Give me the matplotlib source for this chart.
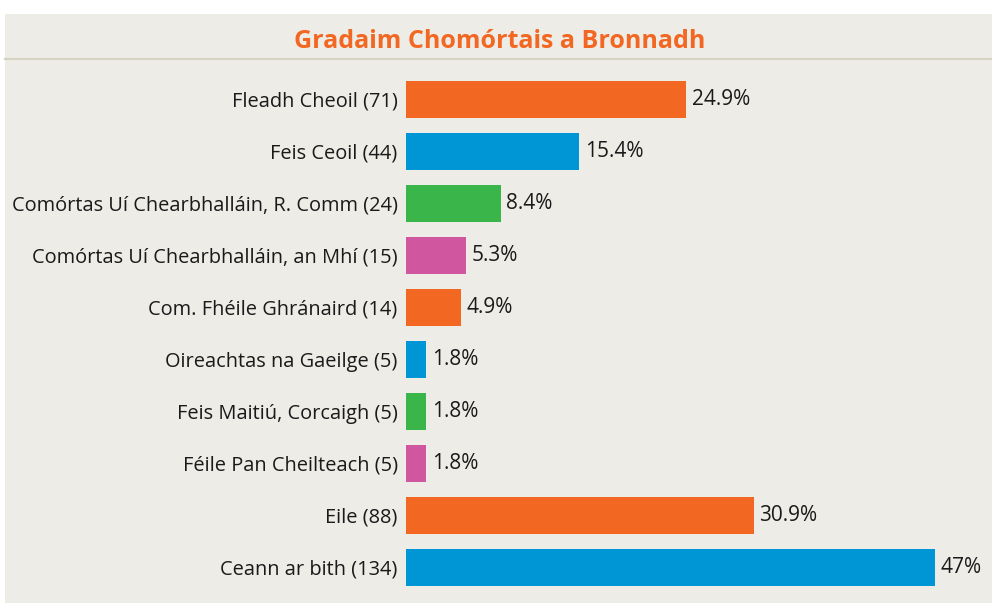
import matplotlib.pyplot as plt
from matplotlib.patches import Rectangle
from matplotlib.lines import Line2D

# data
categories = ['Fleadh Cheoil (71)', 'Feis Ceoil (44)', 'Comórtas Uí Chearbhalláin, R. Comm (24)',
              'Comórtas Uí Chearbhalláin, an Mhí (15)', 'Com. Fhéile Ghránaird (14)',
              'Oireachtas na Gaeilge (5)', 'Feis Maitiú, Corcaigh (5)', 'Féile Pan Cheilteach (5)',
              'Eile (88)', 'Ceann ar bith (134)']
percent = [24.9, 15.4, 8.4, 5.3, 4.9, 1.8, 1.8, 1.8, 30.9, 47]
percent_labels = ['24.9%', '15.4%', '8.4%', '5.3%', '4.9%', '1.8%', '1.8%', '1.8%', '30.9%', '47%']

orange = '#F26722'
blue = '#0096D6'
green = '#3AB54A'
pink = '#D056A0'
bar_colors = [orange, blue, green, pink, orange, blue, green, pink, orange, blue]

bg = '#EDECE7'
font = 'Open Sans'

W, H = 992, 603
fig = plt.figure(figsize=(W / 100, H / 100), dpi=100)
fig.patch.set_facecolor('white')

# grey panel + rule under title
fig.add_artist(Rectangle((5 / W, 0), 1 - 5 / W, 1 - 14 / H, transform=fig.transFigure,
                         facecolor=bg, edgecolor='none', zorder=0))
fig.add_artist(Line2D([5 / W, 1], [1 - 59 / H, 1 - 59 / H], transform=fig.transFigure,
                      color='#D6D2C4', lw=1.5, zorder=1))
fig.text(500 / W, 1 - 42 / H, 'Gradaim Chomórtais a Bronnadh', ha='center', va='center',
         color=orange, fontsize=18, fontweight='bold', family=font)

# axes: left at 406px, 11.25 px per percent
left = 406 / W
ax = fig.add_axes([left, 9.5 / H, 1 - left, 520 / H])
ax.set_facecolor('none')
xmax = (W - 406) / 11.25
ax.set_xlim(0, xmax)

y = list(range(len(categories)))
ax.barh(y, percent, height=0.73, color=bar_colors)
ax.set_ylim(len(categories) - 0.5, -0.5)

for yi, p, lab in zip(y, percent, percent_labels):
    ax.text(p + 0.5, yi, lab, va='center', ha='left', fontsize=15, color='#1a1a1a', family=font)

ax.set_yticks(y)
ax.set_yticklabels(categories, fontsize=14.4, color='#1a1a1a', family=font)
ax.tick_params(axis='y', length=0, pad=6)
ax.set_xticks([])
for s in ax.spines.values():
    s.set_visible(False)

fig.savefig('out.png', dpi=100, facecolor=fig.get_facecolor())
